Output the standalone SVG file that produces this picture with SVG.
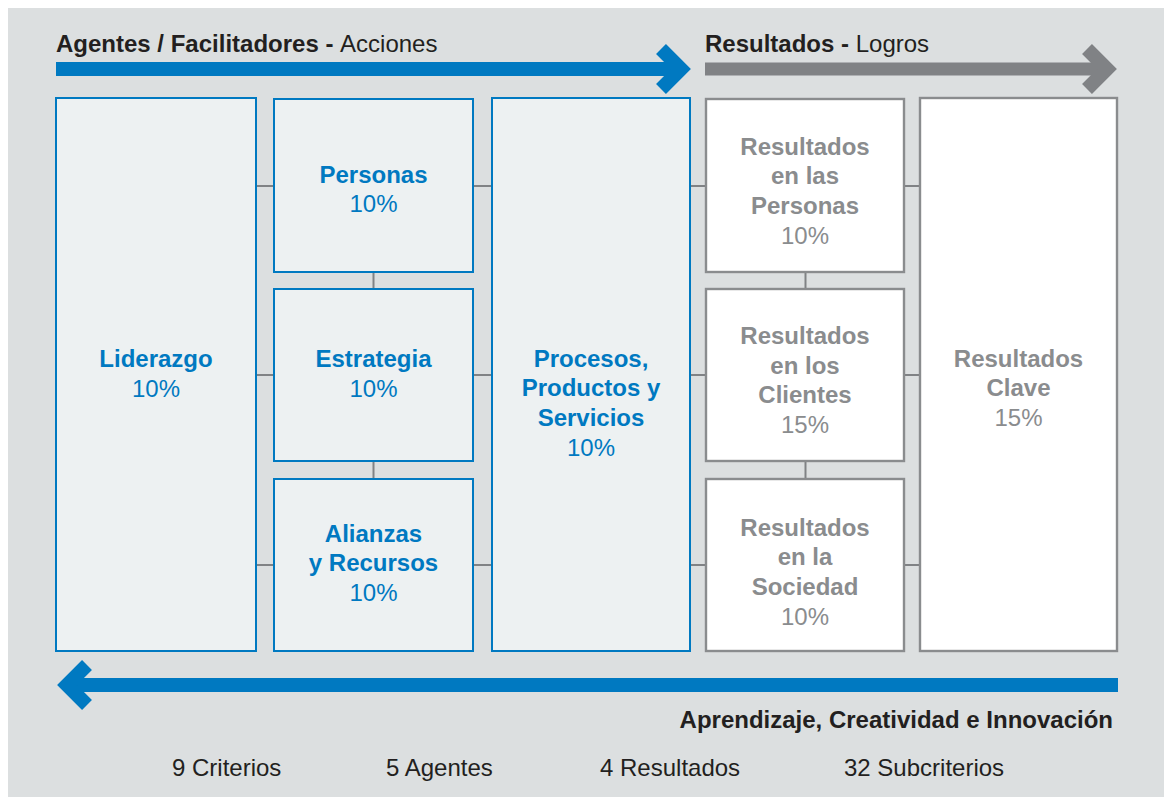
<svg xmlns="http://www.w3.org/2000/svg" width="1164" height="798" viewBox="0 0 1164 798">
<style>
.bg{fill:#DCDFE0}
.bbox{fill:#EDF1F2;stroke:#0079C1;stroke-width:2}
.gbox{fill:#FFFFFF;stroke:#8A8C8E;stroke-width:2.4}
.con{stroke:#808285;stroke-width:2;fill:none}
text{font-family:"Liberation Sans",Arial,sans-serif;font-size:24px}
.bt{fill:#0079C1;font-weight:bold;text-anchor:middle}
.bp{fill:#0079C1;text-anchor:middle}
.gt{fill:#8A8C8E;font-weight:bold;text-anchor:middle}
.gp{fill:#8A8C8E;text-anchor:middle}
.hd{fill:#231F20}
.b{font-weight:bold}
</style>
<rect width="1164" height="798" fill="#FFFFFF"/>
<rect class="bg" x="8" y="8" width="1156" height="789"/>

<g id="arrows">
  <rect x="56" y="62" width="626" height="14" fill="#0079C1"/>
  <polyline points="661,49 681,69 661,89" fill="none" stroke="#0079C1" stroke-width="14" stroke-linejoin="miter" stroke-miterlimit="4"/>
  <rect x="705" y="62.5" width="403" height="13" fill="#808285"/>
  <polyline points="1087,49 1107,69 1087,89" fill="none" stroke="#808285" stroke-width="14" stroke-linejoin="miter" stroke-miterlimit="4"/>
  <rect x="66" y="678" width="1052" height="14" fill="#0079C1"/>
  <polyline points="87,665 67,685 87,705" fill="none" stroke="#0079C1" stroke-width="14" stroke-linejoin="miter" stroke-miterlimit="4"/>
</g>

<g id="headers">
  <text class="hd" x="56" y="52"><tspan class="b">Agentes / Facilitadores - </tspan>Acciones</text>
  <text class="hd" x="705" y="52"><tspan class="b">Resultados - </tspan>Logros</text>
  <text class="hd b" x="1113" y="728" text-anchor="end">Aprendizaje, Creatividad e Innovación</text>
</g>

<g id="connectors">
  <line class="con" x1="257" y1="186" x2="273" y2="186"/>
  <line class="con" x1="257" y1="375" x2="273" y2="375"/>
  <line class="con" x1="257" y1="565" x2="273" y2="565"/>
  <line class="con" x1="474" y1="186" x2="491" y2="186"/>
  <line class="con" x1="474" y1="375" x2="491" y2="375"/>
  <line class="con" x1="474" y1="565" x2="491" y2="565"/>
  <line class="con" x1="691" y1="186" x2="705" y2="186"/>
  <line class="con" x1="691" y1="375" x2="705" y2="375"/>
  <line class="con" x1="691" y1="565" x2="705" y2="565"/>
  <line class="con" x1="905" y1="186" x2="919" y2="186"/>
  <line class="con" x1="905" y1="375" x2="919" y2="375"/>
  <line class="con" x1="905" y1="565" x2="919" y2="565"/>
  <line class="con" x1="373.5" y1="273" x2="373.5" y2="288"/>
  <line class="con" x1="373.5" y1="462" x2="373.5" y2="478"/>
  <line class="con" x1="805.5" y1="273" x2="805.5" y2="288"/>
  <line class="con" x1="805.5" y1="462" x2="805.5" y2="478"/>
</g>

<g id="liderazgo">
  <rect class="bbox" x="56" y="98" width="200" height="553"/>
  <text class="bt" x="156" y="367">Liderazgo</text>
  <text class="bp" x="156" y="397">10%</text>
</g>
<g id="personas">
  <rect class="bbox" x="274" y="99" width="199" height="173"/>
  <text class="bt" x="373.5" y="183">Personas</text>
  <text class="bp" x="373.5" y="212">10%</text>
</g>
<g id="estrategia">
  <rect class="bbox" x="274" y="289" width="199" height="172"/>
  <text class="bt" x="373.5" y="367">Estrategia</text>
  <text class="bp" x="373.5" y="397">10%</text>
</g>
<g id="alianzas">
  <rect class="bbox" x="274" y="479" width="199" height="172"/>
  <text class="bt" x="373.5" y="542">Alianzas</text>
  <text class="bt" x="373.5" y="571">y Recursos</text>
  <text class="bp" x="373.5" y="601">10%</text>
</g>
<g id="procesos">
  <rect class="bbox" x="492" y="98" width="198" height="553"/>
  <text class="bt" x="591" y="367">Procesos,</text>
  <text class="bt" x="591" y="396">Productos y</text>
  <text class="bt" x="591" y="426">Servicios</text>
  <text class="bp" x="591" y="456">10%</text>
</g>
<g id="res-personas">
  <rect class="gbox" x="706" y="99" width="198" height="173"/>
  <text class="gt" x="805" y="155">Resultados</text>
  <text class="gt" x="805" y="184">en las</text>
  <text class="gt" x="805" y="214">Personas</text>
  <text class="gp" x="805" y="244">10%</text>
</g>
<g id="res-clientes">
  <rect class="gbox" x="706" y="289" width="198" height="172"/>
  <text class="gt" x="805" y="344">Resultados</text>
  <text class="gt" x="805" y="374">en los</text>
  <text class="gt" x="805" y="403">Clientes</text>
  <text class="gp" x="805" y="433">15%</text>
</g>
<g id="res-sociedad">
  <rect class="gbox" x="706" y="479" width="198" height="172"/>
  <text class="gt" x="805" y="536">Resultados</text>
  <text class="gt" x="805" y="565">en la</text>
  <text class="gt" x="805" y="595">Sociedad</text>
  <text class="gp" x="805" y="625">10%</text>
</g>
<g id="res-clave">
  <rect class="gbox" x="920" y="98" width="197" height="553"/>
  <text class="gt" x="1018.5" y="367">Resultados</text>
  <text class="gt" x="1018.5" y="396">Clave</text>
  <text class="gp" x="1018.5" y="426">15%</text>
</g>

<g id="footer">
  <text class="hd" x="172" y="776">9 Criterios</text>
  <text class="hd" x="386" y="776">5 Agentes</text>
  <text class="hd" x="600" y="776">4 Resultados</text>
  <text class="hd" x="844" y="776">32 Subcriterios</text>
</g>
</svg>
